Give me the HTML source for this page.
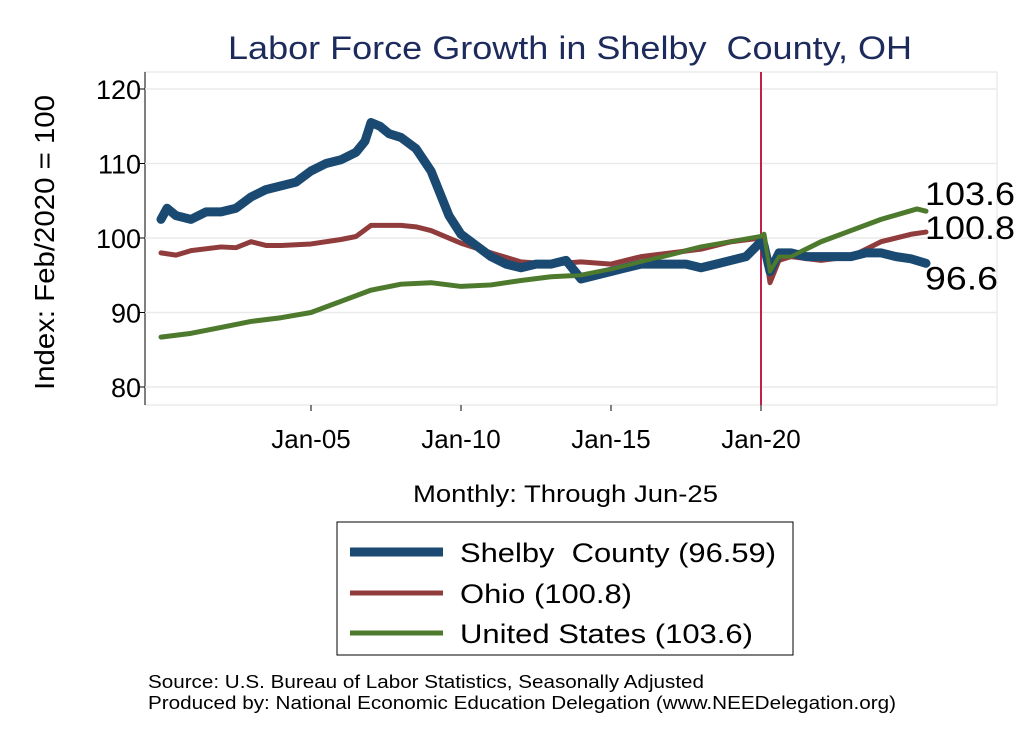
<!DOCTYPE html>
<html><head><meta charset="utf-8"><style>
body{margin:0;background:#fff;font-family:"Liberation Sans",sans-serif;}
svg text{font-family:"Liberation Sans",sans-serif;white-space:pre;}
</style></head><body>
<svg id="c" width="1024" height="745" viewBox="0 0 1024 745">
<rect x="0" y="0" width="1024" height="745" fill="#fff"/>
<text x="228" y="59" font-size="32" textLength="684" lengthAdjust="spacingAndGlyphs" fill="#1c2a5c">Labor Force Growth in Shelby  County, OH</text>
<rect x="145" y="72" width="852" height="333" fill="#fff" stroke="#e0e0e0"/>
<line x1="145" y1="72" x2="145" y2="405" stroke="#000" stroke-width="1"/>
<g id="grid"></g><g id="yt"></g><g id="xt"></g>
<text transform="translate(54,390) rotate(-90)" font-size="28" textLength="295" lengthAdjust="spacingAndGlyphs">Index: Feb/2020 = 100</text>
<text x="413" y="502" font-size="24" textLength="305" lengthAdjust="spacingAndGlyphs">Monthly: Through Jun-25</text>
<g id="series"></g>
<g>
<rect x="337" y="522" width="456" height="133" fill="#fff" stroke="#000"/>
<line x1="350" y1="552" x2="443" y2="552" stroke="#1a4a72" stroke-width="9"/>
<text x="460" y="562" font-size="27" textLength="316" lengthAdjust="spacingAndGlyphs">Shelby  County (96.59)</text>
<line x1="350" y1="593" x2="443" y2="593" stroke="#903c3c" stroke-width="5"/>
<text x="460" y="603" font-size="27" textLength="172" lengthAdjust="spacingAndGlyphs">Ohio (100.8)</text>
<line x1="350" y1="633" x2="443" y2="633" stroke="#4e7a2e" stroke-width="5"/>
<text x="460" y="643" font-size="27" textLength="293" lengthAdjust="spacingAndGlyphs">United States (103.6)</text>
</g>
<text x="148" y="688" font-size="18.5" textLength="556" lengthAdjust="spacingAndGlyphs">Source: U.S. Bureau of Labor Statistics, Seasonally Adjusted</text>
<text x="148" y="709" font-size="18.5" textLength="748" lengthAdjust="spacingAndGlyphs">Produced by: National Economic Education Delegation (www.NEEDelegation.org)</text>
</svg>
<script>
const yTicks=[80,90,100,110,120];
const xTickYears=[2005,2010,2015,2020];
const xTickLabels=["Jan-05","Jan-10","Jan-15","Jan-20"];
const shelbyDates=[2000,2000.2,2000.5,2001,2001.5,2002,2002.5,2003,2003.5,2004,2004.5,2005,2005.5,2006,2006.5,2006.8,2007,2007.3,2007.6,2008,2008.5,2009,2009.3,2009.6,2010,2010.5,2011,2011.5,2012,2012.5,2013,2013.5,2014,2014.5,2015,2015.5,2016,2016.5,2017,2017.5,2018,2018.5,2019,2019.5,2020,2020.1,2020.3,2020.6,2021,2021.5,2022,2022.5,2023,2023.5,2024,2024.5,2025,2025.5];
const shelbyValues=[102.5,104,103,102.5,103.5,103.5,104,105.5,106.5,107,107.5,109,110,110.5,111.5,113,115.5,115,114,113.5,112,109,106,103,100.5,99,97.5,96.5,96,96.5,96.5,97,94.5,95,95.5,96,96.5,96.5,96.5,96.5,96,96.5,97,97.5,99.5,99,95.5,98,98,97.5,97.5,97.5,97.5,98,98,97.5,97.2,96.6];
const ohioDates=[2000,2000.5,2001,2002,2002.5,2003,2003.5,2004,2005,2006,2006.5,2007,2008,2008.5,2009,2010,2011,2012,2013,2014,2015,2016,2017,2018,2019,2020,2020.1,2020.3,2020.6,2021,2022,2023,2024,2025,2025.5];
const ohioValues=[98,97.7,98.3,98.8,98.7,99.5,99,99,99.2,99.8,100.2,101.7,101.7,101.5,101,99.3,98,96.8,96.5,96.8,96.5,97.5,98,98.5,99.5,100,99.5,94,97,97.5,97,97.5,99.5,100.5,100.8];
const usDates=[2000,2001,2002,2003,2004,2005,2006,2007,2008,2009,2010,2011,2012,2013,2014,2015,2016,2017,2018,2019,2020,2020.1,2020.3,2020.6,2021,2022,2023,2024,2025.2,2025.5];
const usValues=[86.7,87.2,88,88.8,89.3,90,91.5,93,93.8,94,93.5,93.7,94.3,94.8,95,95.8,96.8,97.8,98.8,99.5,100.2,100.5,95.5,97.5,97.5,99.5,101,102.5,103.9,103.6];
const NS="http://www.w3.org/2000/svg";
function X(y){return 161+(y-2000)*30;}
function Y(v){return 89+(120-v)*7.45;}
function mk(t,a,p){const e=document.createElementNS(NS,t);for(const k in a)e.setAttribute(k,a[k]);p.appendChild(e);return e;}
const g=document.getElementById('grid'),yt=document.getElementById('yt'),xt=document.getElementById('xt'),s=document.getElementById('series');
yTicks.forEach(v=>{
 mk('line',{x1:145,x2:997,y1:Y(v),y2:Y(v),stroke:'#eaeaea','stroke-width':1.5},g);
 mk('line',{x1:138,x2:145,y1:Y(v),y2:Y(v),stroke:'#000'},yt);
 const t=mk('text',{x:141,y:Y(v)+10,'font-size':27,'text-anchor':'end'},yt);
 
 
 t.textContent=v;
});
xTickYears.forEach((y,i)=>{
 mk('line',{x1:X(y),x2:X(y),y1:405,y2:411,stroke:'#000'},xt);
 const t=mk('text',{x:X(y),y:448,'font-size':26,'text-anchor':'middle'},xt);
 
 
 t.textContent=xTickLabels[i];
});
const vl=mk('line',{x1:X(2020),x2:X(2020),y1:72,y2:405,stroke:'#c0204a','stroke-width':2},s);


function line(d,v,c,w,name){
 const p=mk('polyline',{points:d.map((x,i)=>X(x)+','+Y(v[i])).join(' '),fill:'none',stroke:c,'stroke-width':w,'stroke-linejoin':'round','stroke-linecap':'round'},s);
 
 
}
line(usDates,usValues,'#4e7a2e',5,'us-line');
line(ohioDates,ohioValues,'#903c3c',5,'ohio-line');
line(shelbyDates,shelbyValues,'#1a4a72',9,'shelby-line');
line(usDates,usValues,'#4e7a2e',4,'us-line-top');
const labs=[[usValues,'103.6',-6,90],[ohioValues,'100.8',7,90],[shelbyValues,'96.6',26,73]];
labs.forEach(l=>{
 const v=l[0][l[0].length-1];
 const t=mk('text',{x:925,y:Y(v)+l[2],'font-size':32,textLength:l[3],lengthAdjust:'spacingAndGlyphs'},s);
 
 
 t.textContent=l[1];
});
</script>
</body></html>
